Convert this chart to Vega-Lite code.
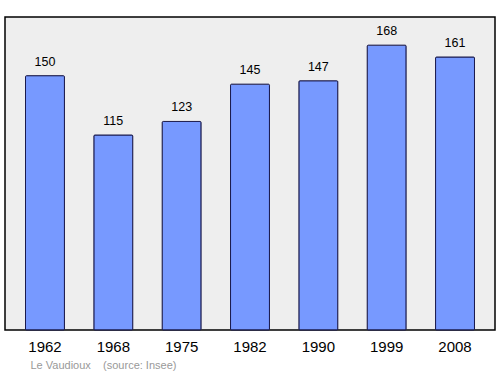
{
  "$schema": "https://vega.github.io/schema/vega-lite/v6.json",
  "width": 490,
  "height": 313,
  "autosize": {"type": "none"},
  "padding": {"left": 5, "top": 17, "right": 5, "bottom": 44},
  "background": "#ffffff",
  "config": {
    "view": {"fill": "#eeeeee", "stroke": "#000000", "strokeWidth": 1.5},
    "font": "Liberation Sans"
  },
  "data": {
    "values": [
      {"year": "1962", "pop": 150},
      {"year": "1968", "pop": 115},
      {"year": "1975", "pop": 123},
      {"year": "1982", "pop": 145},
      {"year": "1990", "pop": 147},
      {"year": "1999", "pop": 168},
      {"year": "2008", "pop": 161}
    ]
  },
  "encoding": {
    "x": {
      "field": "year",
      "type": "ordinal",
      "scale": {"paddingInner": 0.43, "paddingOuter": 0.3},
      "axis": {
        "labelAngle": 0,
        "ticks": false,
        "domain": false,
        "labelPadding": 9,
        "labelFontSize": 15,
        "labelColor": "#000000",
        "title": "Le Vaudioux\u00a0\u00a0\u00a0\u00a0(source: Insee)",
        "titleFontSize": 11,
        "titleFontWeight": "normal",
        "titleColor": "#999999",
        "titleAnchor": "start",
        "titleAlign": "left",
        "titleX": 25,
        "titleY": 35,
        "titleBaseline": "middle"
      }
    },
    "y": {
      "field": "pop",
      "type": "quantitative",
      "scale": {"domain": [0, 184.6], "nice": false},
      "axis": null
    }
  },
  "layer": [
    {
      "mark": {"type": "bar", "color": "#7799ff", "stroke": "#1a1a4d", "strokeWidth": 1, "cornerRadius": 1}
    },
    {
      "mark": {"type": "text", "baseline": "middle", "dy": -14, "fontSize": 12.5, "color": "#000000"},
      "encoding": {"text": {"field": "pop", "type": "quantitative"}}
    }
  ]
}
